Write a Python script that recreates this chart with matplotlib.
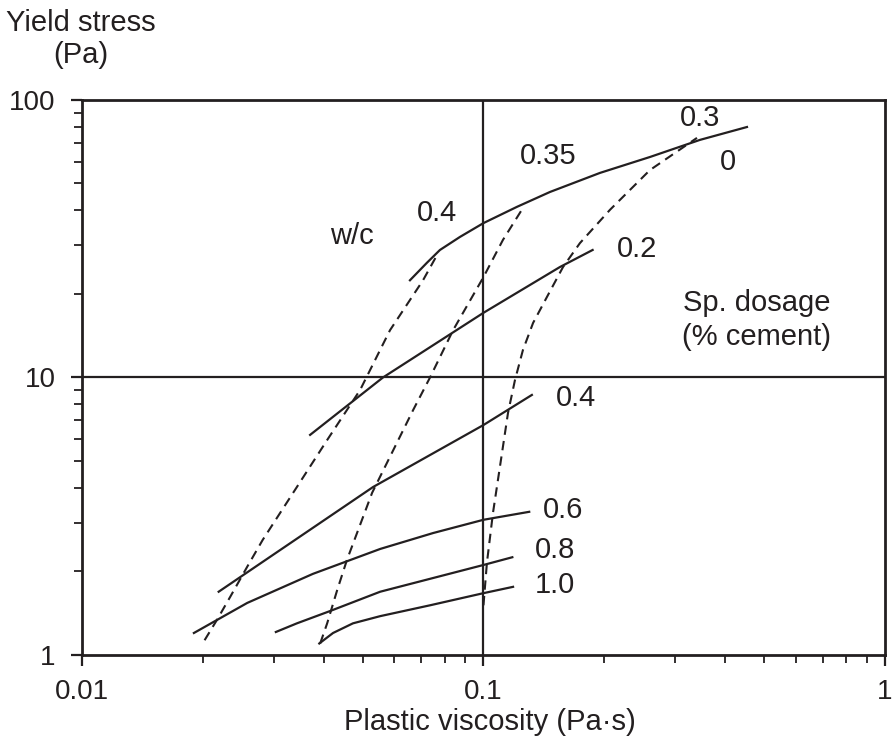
"""
Yield stress vs plastic viscosity, log-log, w/c and Sp. dosage lines
"""
import matplotlib.pyplot as plt
from matplotlib.ticker import FixedLocator, FixedFormatter, LogLocator, NullFormatter

plt.rcParams['font.family'] = ['Liberation Sans', 'DejaVu Sans']

# Sp. dosage curves (solid), % cement
sp_00_x = [0.0656, 0.0723, 0.0779, 0.0874, 0.100, 0.1212, 0.1464, 0.1951, 0.2598, 0.3461, 0.4532]
sp_00_y = [22.4, 25.9, 28.8, 32.1, 36.0, 41.2, 46.6, 54.6, 62.3, 71.8, 79.9]
sp_02_x = [0.037, 0.0562, 0.100, 0.155, 0.187]
sp_02_y = [6.21, 10.0, 17.1, 25.0, 28.8]
sp_04_x = [0.0219, 0.0531, 0.100, 0.132]
sp_04_y = [1.69, 4.03, 6.74, 8.65]
sp_06_x = [0.019, 0.0258, 0.0376, 0.0553, 0.0749, 0.100, 0.130]
sp_06_y = [1.20, 1.54, 1.96, 2.41, 2.75, 3.07, 3.28]
sp_08_x = [0.0304, 0.0343, 0.0415, 0.0553, 0.100, 0.118]
sp_08_y = [1.21, 1.30, 1.44, 1.69, 2.11, 2.25]
sp_10_x = [0.039, 0.0422, 0.0473, 0.0553, 0.0736, 0.100, 0.1185]
sp_10_y = [1.10, 1.20, 1.30, 1.38, 1.51, 1.67, 1.76]

# w/c curves (dashed)
wc_040_x = [0.0202, 0.0217, 0.0234, 0.0258, 0.0282, 0.0343, 0.0408, 0.0493, 0.0585, 0.0707, 0.0766]
wc_040_y = [1.13, 1.34, 1.62, 2.08, 2.60, 4.03, 5.95, 9.02, 14.8, 22.4, 27.6]
wc_035_x = [0.0392, 0.0408, 0.0432, 0.0457, 0.0528, 0.0668, 0.0736, 0.0840, 0.100, 0.1118, 0.1254]
wc_035_y = [1.10, 1.30, 1.71, 2.20, 3.84, 7.63, 10.0, 14.8, 23.0, 31.3, 40.8]
wc_030_x = [0.100, 0.102, 0.1056, 0.1112, 0.1151, 0.1198, 0.1254, 0.1329, 0.1439, 0.1578,
            0.1739, 0.2066, 0.2598, 0.3402]
wc_030_y = [1.51, 2.15, 3.25, 5.34, 7.45, 9.79, 12.56, 15.72, 19.5, 25.0, 30.5, 40.2, 55.9, 73.0]

x_ticks = [0.01, 0.1, 1]
x_tick_labels = ['0.01', '0.1', '1']
y_ticks = [1, 10, 100]
y_tick_labels = ['1', '10', '100']

ink = '#231f20'

fig = plt.figure(figsize=(8.94, 7.55), dpi=100)
ax = fig.add_axes([0.0917, 0.1325, 0.8982, 0.7351])
ax.set_xscale('log')
ax.set_yscale('log')
ax.set_xlim(0.01, 1)
ax.set_ylim(1, 100)

ax.axvline(0.1, color=ink, lw=1.6, zorder=1)
ax.axhline(10, color=ink, lw=1.6, zorder=1)

for xs, ys in [(sp_00_x, sp_00_y), (sp_02_x, sp_02_y), (sp_04_x, sp_04_y),
               (sp_06_x, sp_06_y), (sp_08_x, sp_08_y), (sp_10_x, sp_10_y)]:
    ax.plot(xs, ys, color=ink, lw=1.6, solid_joinstyle='round')

for xs, ys in [(wc_040_x, wc_040_y), (wc_035_x, wc_035_y), (wc_030_x, wc_030_y)]:
    ax.plot(xs, ys, color=ink, lw=1.5, ls=(0, (4.5, 3)))

# axis ticks
ax.xaxis.set_major_locator(FixedLocator(x_ticks))
ax.xaxis.set_major_formatter(FixedFormatter(x_tick_labels))
ax.yaxis.set_major_locator(FixedLocator(y_ticks))
ax.yaxis.set_major_formatter(FixedFormatter(y_tick_labels))
ax.xaxis.set_minor_locator(LogLocator(base=10, subs=range(2, 10)))
ax.yaxis.set_minor_locator(LogLocator(base=10, subs=range(2, 10)))
ax.xaxis.set_minor_formatter(NullFormatter())
ax.yaxis.set_minor_formatter(NullFormatter())
ax.tick_params(which='major', direction='out', length=8, width=1.6, labelsize=20,
               colors=ink)
ax.tick_params(axis='x', which='major', pad=9)
ax.tick_params(axis='y', which='major', pad=11)
ax.tick_params(which='minor', direction='out', length=5.5, width=1.3, colors=ink)
for s in ax.spines.values():
    s.set_linewidth(2)
    s.set_color(ink)

# in-chart labels
lab = dict(fontsize=21, color=ink, ha='center', va='center')
ax.text(0.346, 86.1, '0.3', **lab)
ax.text(0.1447, 62.8, '0.35', **lab)
ax.text(0.406, 59.8, '0', **lab)
ax.text(0.0766, 39.1, '0.4', **lab)
ax.text(0.0470, 32.4, 'w/c', **lab)
ax.text(0.2412, 29.0, '0.2', **lab)
ax.text(0.480, 16.1, 'Sp. dosage\n(% cement)', linespacing=1.27, **lab)
ax.text(0.170, 8.44, '0.4', **lab)
ax.text(0.1578, 3.33, '0.6', **lab)
ax.text(0.1507, 2.39, '0.8', **lab)
ax.text(0.1507, 1.79, '1.0', **lab)

fig.text(81 / 894, 1 - 39 / 755, 'Yield stress\n(Pa)', ha='center', va='center',
         fontsize=21, color=ink, linespacing=1.2)
fig.text(490 / 894, 1 - 722 / 755, 'Plastic viscosity (Pa·s)', ha='center', va='center',
         fontsize=21, color=ink)

fig.savefig('out.png', dpi=100)
